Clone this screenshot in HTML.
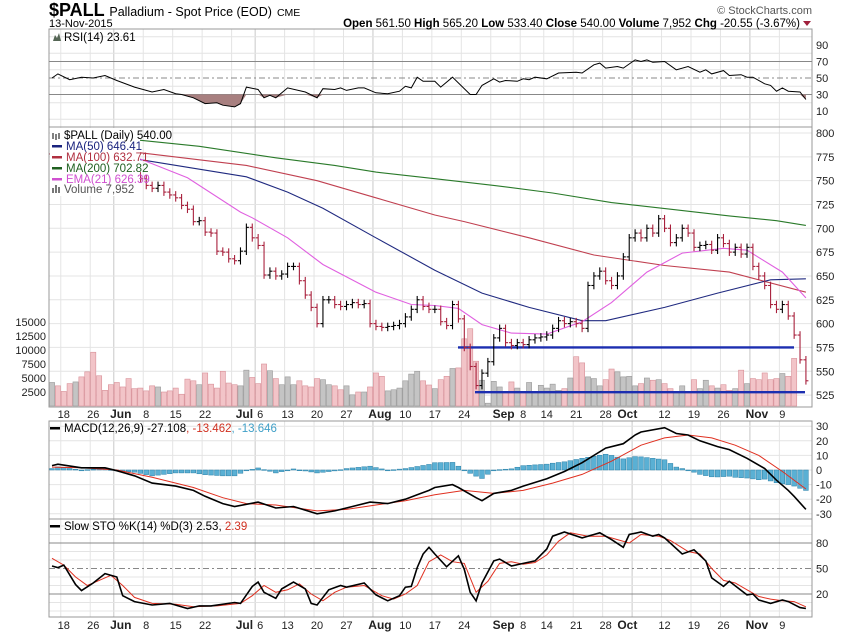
<!DOCTYPE html>
<html><head><meta charset="utf-8"><style>
html,body{margin:0;padding:0;background:#fff;}
svg{display:block;font-family:"Liberation Sans",sans-serif;}
</style></head><body>
<svg id="c" width="850" height="633" viewBox="0 0 850 633" xmlns="http://www.w3.org/2000/svg">
<rect width="850" height="633" fill="#fff"/>
<g id="grid"></g>
<g id="marks"></g>
<g id="labels"></g>
<text x="49" y="16" font-size="18" font-weight="bold" fill="#000">$PALL <tspan font-size="12.5" font-weight="normal">Palladium - Spot Price (EOD)</tspan> <tspan font-size="10.5" font-weight="normal">CME</tspan></text>
<text x="49" y="27" font-size="11" fill="#000">13-Nov-2015</text>
<text x="812" y="14" font-size="11" fill="#555" text-anchor="end">© StockCharts.com</text>
<text x="800" y="27" font-size="11.5" fill="#000" text-anchor="end"><tspan font-weight="bold">Open</tspan> 561.50  <tspan font-weight="bold">High</tspan> 565.20  <tspan font-weight="bold">Low</tspan> 533.40  <tspan font-weight="bold">Close</tspan> 540.00  <tspan font-weight="bold">Volume</tspan> 7,952  <tspan font-weight="bold">Chg</tspan> -20.55 (-3.67%)</text>
<polygon points="803,21 811,21 807,26" fill="#a0203c"/>
</svg>
<script>
// ---- data ----
const closes=[775,773,772,770,770,768,766,765,764,763,762,
760,759,757,755,752,745,742,745,738,735,
732,724,720,707,708,696,695,676,675,668,
666,676,701,690,682,651,655,650,652,
660,660,645,630,617,600,625,625,620,618,
620,622,620,621,600,597,596,597,598,600,
607,615,625,618,615,615,602,598,620,605,
575,555,535,548,560,585,595,580,577,580,
578,583,585,586,588,595,603,600,602,600,
595,640,650,655,645,640,650,670,690,
695,690,700,695,710,700,685,690,700,695,
680,682,683,677,690,684,675,680,673,680,
660,650,640,620,615,620,608,588,562,540];
const volumes=[4200,3600,2600,4000,4300,5200,6100,9600,5400,2800,3800,
4200,3400,4900,3100,3200,2700,3600,3400,2500,2700,
3200,2100,4800,4500,3800,5900,3900,3200,6200,4100,
3800,3600,6400,5100,4000,7500,6300,4900,3800,5200,
3800,4500,3600,3400,4900,4700,3800,3600,2900,3600,
2000,2500,2500,3400,5900,5300,2700,2900,3200,4500,
5700,6200,4500,3750,3100,4700,5300,6700,6800,12000,
13800,8000,4600,500,4400,3400,2600,4300,3200,2600,
4200,2600,3700,3200,3900,2800,3100,5000,8800,7700,
5200,4900,3600,4700,6600,6100,5200,5300,3600,4000,
5000,4600,4700,4000,3100,2500,3600,2600,4700,3100,
4600,3600,3200,3800,2800,3100,6400,4000,4900,4700,
5900,4700,4900,5800,5300,8500];
const ma50Idx=[14,33,40,46,55,65,73,81,90,94,104,113,122,128];
const ma50Val=[773,754,738,721,690,656,632,617,603,603,617,632,646,647];
const ma100Idx=[14,33,45,55,65,70,81,92,104,115,128];
const ma100Val=[780,766,750,732,714,707,690,672,661,654,633];
const ma200Idx=[14,25,38,48,55,65,75,85,95,105,115,123,128];
const ma200Val=[793,786,774,766,759,752,745,737,727,720,713,708,703];
const emaIdx=[14,23,32,34,40,46,55,61,65,69,73,78,84,90,95,101,107,114,118,124,128];
const emaVal=[775,753,717,711,690,662,633,620,619,616,599,590,589,602,622,654,674,679,677,654,627];
const rsiIdx=[0,1,3,5,7,9,11,14,17,19,21,22,24,26,28,29,31,32,33,35,36,37,38,40,43,45,46,48,49,50,52,53,55,57,59,60,61,62,63,65,66,68,71,72,73,75,76,77,79,80,81,82,84,86,89,90,92,93,94,96,97,99,100,101,102,104,106,108,110,111,112,114,115,117,118,119,121,122,123,124,125,127,128];
const rsiVal=[50,55,48,51,50,53,47,39,33,36,31,30,26,19,20,17,15,19,39,36,26,29,26,38,33,26,37,36,38,35,38,38,32,31,34,40,38,51,46,46,39,51,30,30,41,49,45,47,46,49,48,51,49,56,57,56,66,68,62,64,62,72,70,72,69,70,60,64,57,60,55,59,53,54,51,51,43,41,34,38,34,33,24];
const macdIdx=[0,1,5,9,11,14,17,21,24,26,29,31,35,38,41,45,48,51,54,57,60,62,64,65,68,69,72,73,75,78,80,84,87,90,94,97,99,100,104,106,108,110,113,115,118,121,123,125,126,128];
const macdVal=[3,4,1.5,1.5,-0.5,-4,-9,-11,-14,-18,-23,-25,-22,-26,-25,-30,-28,-25,-22,-23,-20,-17,-14,-12,-10,-12,-19,-21,-16,-14,-11,-6,-1,5,15,18,24,26,29,25,24,20,16,14,8,1,-7,-14,-18,-27];
const sigIdx=[0,5,11,17,24,29,33,38,45,50,55,60,65,70,75,80,85,90,95,100,104,108,112,116,120,124,128];
const sigVal=[2,1.5,0,-5,-12,-19,-23,-24,-28,-27,-24,-21,-17,-14,-16,-14,-9,-3,6,17,22,24,22,17,10,-1,-13];
const kIdx=[0,1,2,4,5,7,9,11,12,14,17,20,23,25,27,31,32,34,35,36,38,39,41,43,44,45,47,49,50,53,55,57,59,60,61,62,63,64,65,67,69,70,71,72,73,75,76,78,80,82,84,85,87,90,92,93,95,97,98,100,102,103,104,107,109,111,112,114,115,118,119,120,122,124,125,127,128];
const kVal=[53,51,54,31,24,33,44,40,18,11,7,9,3,6,6,10,9,29,34,22,15,26,34,26,9,7,25,30,28,33,19,12,18,28,29,51,67,75,67,52,65,49,22,12,33,59,61,53,56,59,73,88,93,86,90,92,84,75,90,93,88,90,86,67,72,59,39,29,35,19,20,13,9,13,11,4,3];
const dIdx=[0,2,4,6,8,10,12,14,17,21,24,28,32,34,36,38,40,42,44,46,48,50,53,56,58,60,62,64,66,68,70,72,74,76,78,80,82,84,86,88,91,94,96,98,100,103,105,108,110,112,114,116,118,120,122,124,126,128];
const dVal=[62,54,40,30,36,42,30,16,9,8,5,6,9,18,30,22,25,32,20,12,22,28,30,18,14,20,30,58,66,58,56,22,35,56,58,55,57,66,82,92,88,88,84,80,90,88,83,70,67,50,36,33,25,17,14,12,11,5];
const priceTicks=[525,550,575,600,625,650,675,700,725,750,775,800];
const volTicks=[2500,5000,7500,10000,12500,15000];
const rsiTicks=[10,30,50,70,90];
const macdTicks=[-30,-20,-10,0,10,20,30];
const stoTicks=[20,50,80];
const dateIdx=[2,7,11,16,21,26,33,35,40,45,50,55,60,65,70,76,80,84,89,94,97,104,109,114,119,124];
const dateLbl=["18","26","Jun","8","15","22","Jul","6","13","20","27","Aug","10","17","24","Sep","8","14","21","28","Oct","12","19","26","Nov","9"];
const monthIdx=[11,33,55,76,97,119];
const weekIdx=[2,7,11,16,21,26,31,35,40,45,50,55,60,65,70,75,80,84,89,94,99,104,109,114,119,124];
// ---- axes ----
const L=49,R=812;
const X=i=>52+i*5.89;
const yRSI=v=>78-(v-50)*0.825;
const yP=v=>133+(800-v)*0.953;
const yV=v=>406-v*0.0056;
const yM=v=>470-v*1.46;
const yS=v=>594-(v-20)*0.85;
const NS="http://www.w3.org/2000/svg";
const G=document.getElementById('grid'),M=document.getElementById('marks'),T=document.getElementById('labels');
function mk(tag,parent,attrs){const e=document.createElementNS(NS,tag);for(const k in attrs)e.setAttribute(k,attrs[k]);parent.appendChild(e);return e;}
function txt(parent,x,y,s,attrs){const e=mk('text',parent,Object.assign({x:x,y:y,'font-size':11,fill:'#222'},attrs||{}));e.textContent=s;return e;}
function interp(idx,val){const out=[];for(let i=idx[0];i<=idx[idx.length-1];i++){let k=0;while(k<idx.length-2&&idx[k+1]<i)k++;const t=(i-idx[k])/(idx[k+1]-idx[k]);out.push([i,val[k]+(val[k+1]-val[k])*Math.max(0,Math.min(1,t))]);}return out;}
function pathD(idx,val,yf){return idx.map((d,k)=>(k?'L':'M')+X(d).toFixed(1)+','+yf(val[k]).toFixed(1)).join('');}
const panels=[[29,127],[127,407],[421,519],[519,617]];
panels.forEach((p,pi)=>{weekIdx.forEach(w=>{const l=mk('line',G,{x1:X(w)-3,x2:X(w)-3,y1:p[0],y2:p[1],stroke:monthIdx.some(m=>w>=m&&w-m<=2)?'#c8c8c8':'#e4e4e4','stroke-width':1});

});});
function hgrid(vals,yf,name){vals.forEach(v=>{const l=mk('line',G,{x1:L,x2:R,y1:yf(v),y2:yf(v),stroke:'#e4e4e4'});

});}
hgrid([0,20,40,60,80,100],yRSI,'rsi-gridline');
hgrid(priceTicks,yP,'price-gridline');
hgrid(macdTicks,yM,'macd-gridline');
hgrid([0,10,30,40,60,70,90,100],yS,'sto-gridline');
panels.forEach(p=>{const r=mk('rect',G,{x:L,y:p[0],width:R-L,height:p[1]-p[0],fill:'none',stroke:'#999'});

});
[[70,'none'],[30,'none'],[50,'6,3,2,3']].forEach(a=>{const l=mk('line',G,{x1:L,x2:R,y1:yRSI(a[0]),y2:yRSI(a[0]),stroke:'#888','stroke-dasharray':a[1]});

});
[[80,'none'],[20,'none'],[50,'6,3,2,3']].forEach(a=>{const l=mk('line',G,{x1:L,x2:R,y1:yS(a[0]),y2:yS(a[0]),stroke:'#888','stroke-dasharray':a[1]});

});
// RSI
const rsiFill=mk('path',M,{d:pathD(rsiIdx,rsiVal.map(v=>Math.min(v,30)),yRSI)+'L'+X(128)+','+yRSI(30)+'L'+X(0)+','+yRSI(30)+'Z',fill:'#a88080'});


const rsiL=mk('path',M,{d:pathD(rsiIdx,rsiVal,yRSI),fill:'none',stroke:'#000','stroke-width':1});


// volume
volumes.forEach((v,i)=>{if(i>=closes.length)return;const down=i>0&&closes[i]<closes[i-1];
const b=mk('rect',M,{x:X(i)-2.6,y:yV(v),width:5.2,height:406-yV(v),fill:down?'#f2c4c8':'#c4c4c4',stroke:down?'#d89098':'#999','stroke-width':0.6});

});
const s1=mk('line',M,{x1:458,x2:794,y1:yP(575),y2:yP(575),stroke:'#1c2eb0','stroke-width':2.4});


const s2=mk('line',M,{x1:475,x2:805,y1:yP(528),y2:yP(528),stroke:'#1c2eb0','stroke-width':2.4});


[[ma200Idx,ma200Val,'#2a7a2a','ma200-line'],[ma100Idx,ma100Val,'#c04050','ma100-line'],[ma50Idx,ma50Val,'#202a80','ma50-line'],[emaIdx,emaVal,'#e060e0','ema21-line']].forEach(s=>{
const p=mk('path',M,{d:pathD(s[0],s[1],yP),fill:'none',stroke:s[2],'stroke-width':1.1});

});
closes.forEach((c,i)=>{const o=i>0?closes[i-1]:c+3;const down=c<o;const col=down?'#a8203c':'#000';const hi=Math.max(o,c)+4,lo=Math.min(o,c)-4;const x=X(i);
const g=mk('g',M,{stroke:col,'stroke-width':1.1});


mk('line',g,{x1:x,x2:x,y1:yP(hi),y2:yP(lo)});mk('line',g,{x1:x-2.5,x2:x,y1:yP(o),y2:yP(o)});mk('line',g,{x1:x,x2:x+2.5,y1:yP(c),y2:yP(c)});});
// MACD
const mI=interp(macdIdx,macdVal),sI=interp(sigIdx,sigVal);
mI.forEach((m,k)=>{const h=m[1]-sI[k][1];const y0=yM(0),y1=yM(h);
const b=mk('rect',M,{x:X(m[0])-2.4,y:Math.min(y0,y1),width:4.8,height:Math.max(0.8,Math.abs(y1-y0)),fill:'#5ab0d4',stroke:'#2a80a8','stroke-width':0.5});

});
const sigL=mk('path',M,{d:pathD(sigIdx,sigVal,yM),fill:'none',stroke:'#e03020','stroke-width':1});


const macdL=mk('path',M,{d:pathD(macdIdx,macdVal,yM),fill:'none',stroke:'#000','stroke-width':1.6});


// STO
const dL=mk('path',M,{d:pathD(dIdx,dVal,yS),fill:'none',stroke:'#e03020','stroke-width':1});


const kL=mk('path',M,{d:pathD(kIdx,kVal,yS),fill:'none',stroke:'#000','stroke-width':1.6});


// axis labels
function rlab(vals,yf,name){vals.forEach(v=>{const t=txt(T,816,yf(v)+4,String(v));

});}
rlab(rsiTicks,yRSI,'rsi-tick-label');rlab(priceTicks,yP,'price-tick-label');rlab(macdTicks,yM,'macd-tick-label');rlab(stoTicks,yS,'sto-tick-label');
volTicks.forEach(v=>{const t=txt(T,46,yV(v)+4,String(v),{'text-anchor':'end'});

});
[418,629].forEach(yy=>{dateIdx.forEach((d,k)=>{const isM=isNaN(+dateLbl[k]);let dx=isM?4:0;if(dateLbl[k]==='Jul')dx=-2;if(dateLbl[k]==='6'&&d===35)dx=2;
const t=txt(T,X(d)+dx,yy,dateLbl[k],{'text-anchor':'middle','font-weight':isM?'bold':'normal','font-size':isM?12:11});

});});
// legends
function legend(x,y,parts,name,sw){const t=mk('text',T,{x:x,y:y,'font-size':11.5,fill:'#000'});


parts.forEach(p=>{const s=mk('tspan',t,{fill:p[1]});s.textContent=p[0];});
if(sw){const l=mk('rect',T,{x:x-14,y:y-5,width:10,height:2.5,fill:sw});

}}
const lb=mk('rect',T,{x:50,y:128,width:90,height:68,fill:'#fff'});


legend(64,41,[['RSI(14) 23.61','#000']],'rsi-legend');
mk('path',T,{d:'M53,41 L55,35 L57,38 L59,33 L61,41 Z',fill:'#556655'});
legend(64,139,[['$PALL (Daily) 540.00','#000']],'price-legend');
mk('path',T,{d:'M53,133v6M56,134v6M59,133v6',stroke:'#000','stroke-width':1});
legend(66,150,[['MA(50) 646.41','#1a237e']],'ma50-legend','#1a237e');
legend(66,161,[['MA(100) 632.71','#b03040']],'ma100-legend','#b03040');
legend(66,172,[['MA(200) 702.82','#206020']],'ma200-legend','#206020');
legend(66,183,[['EMA(21) 626.39','#d050d0']],'ema21-legend','#d050d0');
legend(64,193,[['Volume 7,952','#555']],'volume-legend');
mk('path',T,{d:'M52,193v-5h2v5M55,193v-8h2v8M58,193v-6h2v6',fill:'#777'});
legend(64,432,[['MACD(12,26,9) -27.108','#000'],[', -13.462','#d03020'],[', -13.646','#40a0c8']],'macd-legend','#000');
legend(64,530,[['Slow STO %K(14) %D(3) 2.53, ','#000'],['2.39','#d03020']],'sto-legend','#000');
</script>
</body></html>
